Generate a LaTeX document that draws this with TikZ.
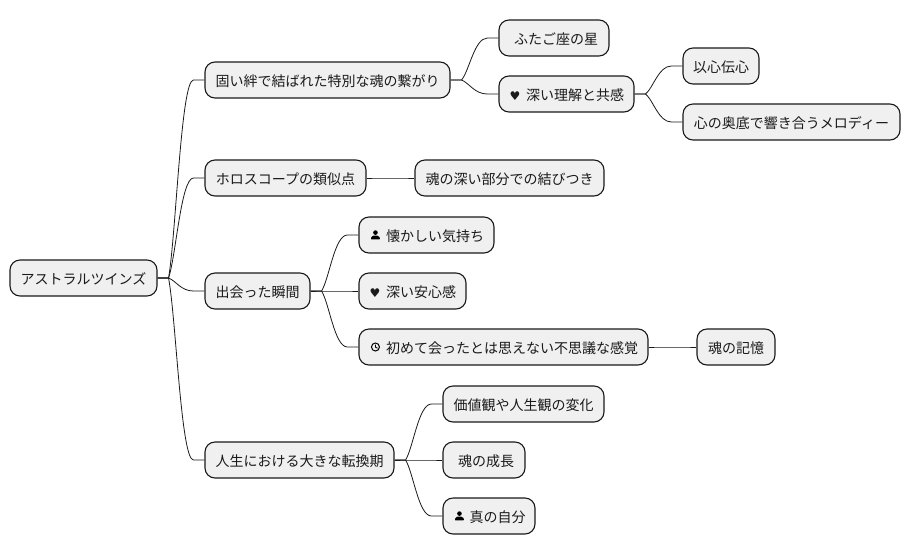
\documentclass[tikz,border=0pt]{standalone}
\usepackage{fontspec}
\setmainfont{Noto Sans CJK JP}
\newfontfamily\symfont{DejaVu Sans}
\usetikzlibrary{calc}
\definecolor{boxfill}{HTML}{F0F0F0}
\definecolor{inkc}{HTML}{1A1A1A}
\tikzset{
  topic/.style={draw=inkc,fill=boxfill,rounded corners=10pt,line width=1.1pt,minimum height=36pt,inner sep=0pt,text=inkc,font=\fontsize{14pt}{14pt}\selectfont,anchor=center,text height=13pt,text depth=0.5pt},
  edge/.style={draw=inkc,line width=0.8pt},
  iconfill/.style={fill=black,draw=none},
}
\newcommand{\conn}[2]{\draw[edge] let \p1=(#1.east), \p2=(#2.west), \n1={\x2-\x1-22pt}, \n2={\y2-\y1} in
  (\p1) -- ({\x1+11pt},\y1) .. controls ({\x1+11pt+0.3*\n1},{\y1+0.22*\n2}) and ({\x2-11pt-0.5*\n1},\y2) .. ({\x2-11pt},\y2) -- (\p2);}
\newcommand{\iconspace}{\hspace*{17pt}}
\newcommand{\heartmark}{\makebox[12pt][c]{\symfont\fontsize{12pt}{12pt}\selectfont ♥}\hspace*{5pt}}
\newcommand{\nudge}{\hspace*{4pt}}
% person icon centred 17pt right of a node's west anchor (dimensions are not flipped by y=-1pt)
\newcommand{\personicon}[1]{\fill[iconfill] ($(#1.west)+(17pt,2.4pt)$) circle (2.3pt);
  \fill[iconfill,rounded corners=0.6pt] ($(#1.west)+(12.6pt,-4.4pt)$) -- ($(#1.west)+(12.6pt,-2.4pt)$) -- ($(#1.west)+(14.8pt,-0.6pt)$) -- ($(#1.west)+(19.2pt,-0.6pt)$) -- ($(#1.west)+(21.4pt,-2.4pt)$) -- ($(#1.west)+(21.4pt,-4.4pt)$) -- cycle;}
\newcommand{\clockicon}[1]{\draw[line width=1pt,black] ($(#1.west)+(17pt,0pt)$) circle (4pt);
  \draw[line width=0.9pt,black] ($(#1.west)+(17pt,2.4pt)$) -- ($(#1.west)+(17pt,-0.2pt)$) -- ($(#1.west)+(19pt,-1.2pt)$);}
\begin{document}
\begin{tikzpicture}[x=1pt,y=-1pt]
\useasboundingbox (0,0) rectangle (910,555);
\node[topic,minimum width=147pt] (root) at (83.5,278) {アストラルツインズ};
\node[topic,minimum width=245pt] (a) at (327.5,80) {固い絆で結ばれた特別な魂の繋がり};
\node[topic,minimum width=110pt] (a1) at (554,38) {\nudge ふたご座の星};
\node[topic,minimum width=135pt] (a2) at (566.5,94) {\heartmark 深い理解と共感};
\node[topic,minimum width=76pt] (a21) at (721,66) {以心伝心};
\node[topic,minimum width=217pt] (a22) at (791.5,122) {心の奥底で響き合うメロディー};
\node[topic,minimum width=161pt] (b) at (285.5,178) {ホロスコープの類似点};
\node[topic,minimum width=189pt] (b1) at (509.5,178) {魂の深い部分での結びつき};
\node[topic,minimum width=105pt] (c) at (257.5,291) {出会った瞬間};
\node[topic,minimum width=135pt] (c1) at (426.5,235) {\iconspace 懐かしい気持ち};
\node[topic,minimum width=107pt] (c2) at (412.5,291) {\heartmark 深い安心感};
\node[topic,minimum width=289pt] (c3) at (503.5,347) {\iconspace 初めて会ったとは思えない不思議な感覚};
\node[topic,minimum width=78pt] (c31) at (736,347) {魂の記憶};
\node[topic,minimum width=189pt] (d) at (299.5,460) {人生における大きな転換期};
\node[topic,minimum width=161pt] (d1) at (523.5,404) {価値観や人生観の変化};
\node[topic,minimum width=82pt] (d2) at (484,460) {\nudge 魂の成長};
\node[topic,minimum width=92pt] (d3) at (489,516) {\iconspace 真の自分};
\personicon{c1}
\clockicon{c3}
\personicon{d3}
\conn{root}{a}
\conn{root}{b}
\conn{root}{c}
\conn{root}{d}
\conn{a}{a1}
\conn{a}{a2}
\conn{a2}{a21}
\conn{a2}{a22}
\conn{b}{b1}
\conn{c}{c1}
\conn{c}{c2}
\conn{c}{c3}
\conn{c3}{c31}
\conn{d}{d1}
\conn{d}{d2}
\conn{d}{d3}
\end{tikzpicture}
\end{document}
